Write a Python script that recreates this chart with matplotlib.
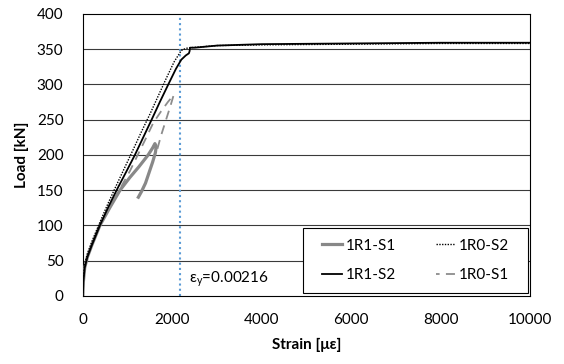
import numpy as np
import matplotlib
matplotlib.use("Agg")
import matplotlib.pyplot as plt
from matplotlib.patches import Rectangle

plt.rcParams["font.family"] = ["Lato", "DejaVu Sans"]

# 1R1-S1 (gray, thick)
s1_strain = [0, 10, 40, 100, 200, 380, 600, 830, 1050, 1250, 1460, 1560, 1610, 1640, 1620, 1560, 1480, 1400, 1310, 1240]
s1_load = [0, 20, 40, 55, 72, 100, 125, 150, 168, 183, 200, 210, 216, 212, 203, 190, 175, 160, 148, 140]

# 1R1-S2 (black)
s2_strain = [0, 10, 40, 100, 200, 380, 560, 754, 960, 1163, 1350, 1537, 1720, 1910, 2080, 2200, 2300, 2370, 2385, 2395, 2500, 3000, 4000, 6000, 8000, 10000]
s2_load = [0, 20, 40, 55, 72, 100, 125, 150, 175, 200, 225, 250, 275, 300, 322, 335, 341, 344, 347, 352, 352, 355, 357, 358, 359, 359]

# 1R0-S2 (black, dotted)
r2_strain = [0, 10, 40, 100, 200, 370, 540, 720, 920, 1120, 1310, 1500, 1680, 1860, 2040, 2200, 2300, 2400, 3000, 4000, 6000, 8000, 10000]
r2_load = [0, 25, 45, 60, 77, 103, 128, 153, 180, 207, 233, 258, 283, 308, 332, 348, 351, 352, 355, 356, 357, 358, 358]

# 1R0-S1 (gray, dashed)
r1_strain = [0, 10, 40, 100, 200, 380, 600, 830, 1050, 1250, 1420, 1570, 1750, 1900, 2030, 1960, 1850, 1750, 1650]
r1_load = [0, 20, 40, 55, 72, 100, 126, 152, 177, 203, 225, 245, 262, 275, 285, 270, 248, 228, 205]

eps_y = 2160
x_ticks = [0, 2000, 4000, 6000, 8000, 10000]
y_ticks = [0, 50, 100, 150, 200, 250, 300, 350, 400]

fig = plt.figure(figsize=(5.64, 3.64), dpi=100)
ax = fig.add_axes([0.147, 0.187, 0.793, 0.775])

for y in y_ticks[1:-1]:
    ax.axhline(y, color="#3a3a3a", lw=0.8, zorder=1)

ax.axvline(eps_y, color="#5B9BD5", lw=1.5, ls=(0, (1, 1.5)), zorder=2)

l1, = ax.plot(s1_strain, s1_load, color="#888888", lw=2.3, label="1R1-S1", zorder=3)
l4, = ax.plot(r1_strain, r1_load, color="#8c8c8c", lw=1.3, ls=(3, (5, 3.5)), label="1R0-S1", zorder=3)
l2, = ax.plot(s2_strain, s2_load, color="black", lw=1.3, label="1R1-S2", zorder=4)
l3, = ax.plot(r2_strain, r2_load, color="black", lw=1.0, ls=(0, (1, 1)), label="1R0-S2", zorder=4)

ax.text(2380, 23, r"$\mathregular{\epsilon_y}$=0.00216", fontsize=11, va="center", ha="left")

ax.set_xlim(0, 10000)
ax.set_ylim(0, 400)
ax.set_xticks(x_ticks)
ax.set_yticks(y_ticks)
ax.tick_params(length=0, labelsize=11)
ax.tick_params(axis="x", pad=12)
ax.tick_params(axis="y", pad=14)
for sp in ax.spines.values():
    sp.set_color("black")
    sp.set_linewidth(0.8)

ax.set_xlabel("Strain [με]", fontsize=11, fontweight="bold", labelpad=8)
ax.set_ylabel("Load [kN]", fontsize=11, fontweight="bold", labelpad=6)

# legend box
box = Rectangle((0.492, 0.011), 0.504, 0.23, transform=ax.transAxes,
                facecolor="white", edgecolor="black", lw=0.8, zorder=5)
ax.add_patch(box)
leg = ax.legend(handles=[l1, l2, l3, l4], ncol=2, loc="center",
                bbox_to_anchor=(0.744, 0.126), fontsize=11, frameon=False,
                handlelength=1.3, handletextpad=0.25, borderaxespad=0,
                columnspacing=2.6, labelspacing=1.0)
leg.set_zorder(6)

plt.savefig("out.png", dpi=100)
